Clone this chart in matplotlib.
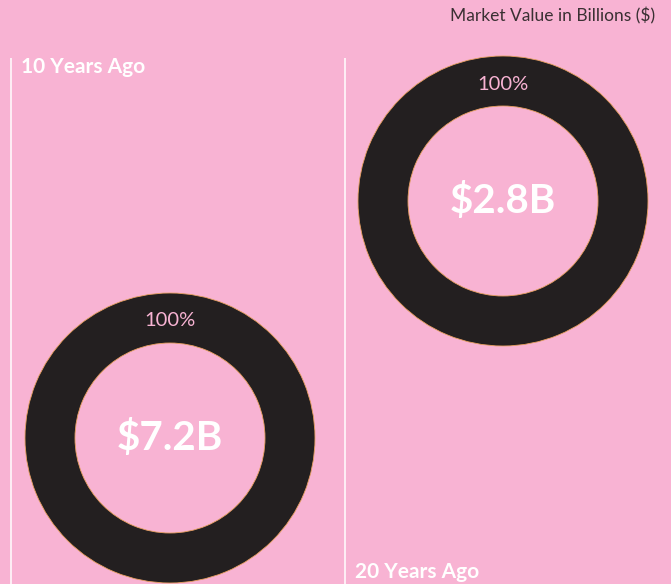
import matplotlib.pyplot as plt

plt.rcParams['font.family'] = ['Lato', 'DejaVu Sans']

BG = "#F8B3D3"
RING = "#231F20"

periods = ["10 Years Ago", "20 Years Ago"]
values = [7.2, 2.8]
shares = [100, 100]
value_labels = ["$7.2B", "$2.8B"]

W, H = 671, 584
fig = plt.figure(figsize=(W / 100, H / 100), dpi=100)
fig.patch.set_facecolor(BG)
ax = fig.add_axes([0, 0, 1, 1])
ax.set_facecolor(BG)

# panel layout in pixel coords: (line x, donut centre x, donut centre y, label y)
panels = [(11, 170, 438, 67), (345, 503, 201, 572)]
r_out, r_in = 145, 95

for (lx, cx, cy, ly), name, val, share, vlab in zip(panels, periods, values, shares, value_labels):
    ax.plot([lx, lx], [58, H], color="white", lw=1.1, solid_capstyle="butt")
    ax.text(lx + 10, ly, name, color="white", fontsize=15, fontweight="bold",
            ha="left", va="center")
    ax.pie([share], radius=r_out, center=(cx, cy), colors=[RING], frame=True,
           wedgeprops=dict(width=r_out - r_in, edgecolor="#E8A060", linewidth=0.6))
    ax.text(cx, cy - 117, f"{share}%", color=BG, fontsize=14.5, ha="center", va="center")
    ax.text(cx, cy, vlab, color="white", fontsize=29, fontweight="bold",
            ha="center", va="center")

# pie resets limits/aspect
ax.set_xlim(0, W)
ax.set_ylim(H, 0)
ax.set_aspect("equal")
ax.axis("off")

ax.text(655, 16, "Market Value in Billions ($)", color="#3a3033", fontsize=12.5,
        ha="right", va="center")

fig.savefig("out.png", dpi=100, facecolor=BG)
